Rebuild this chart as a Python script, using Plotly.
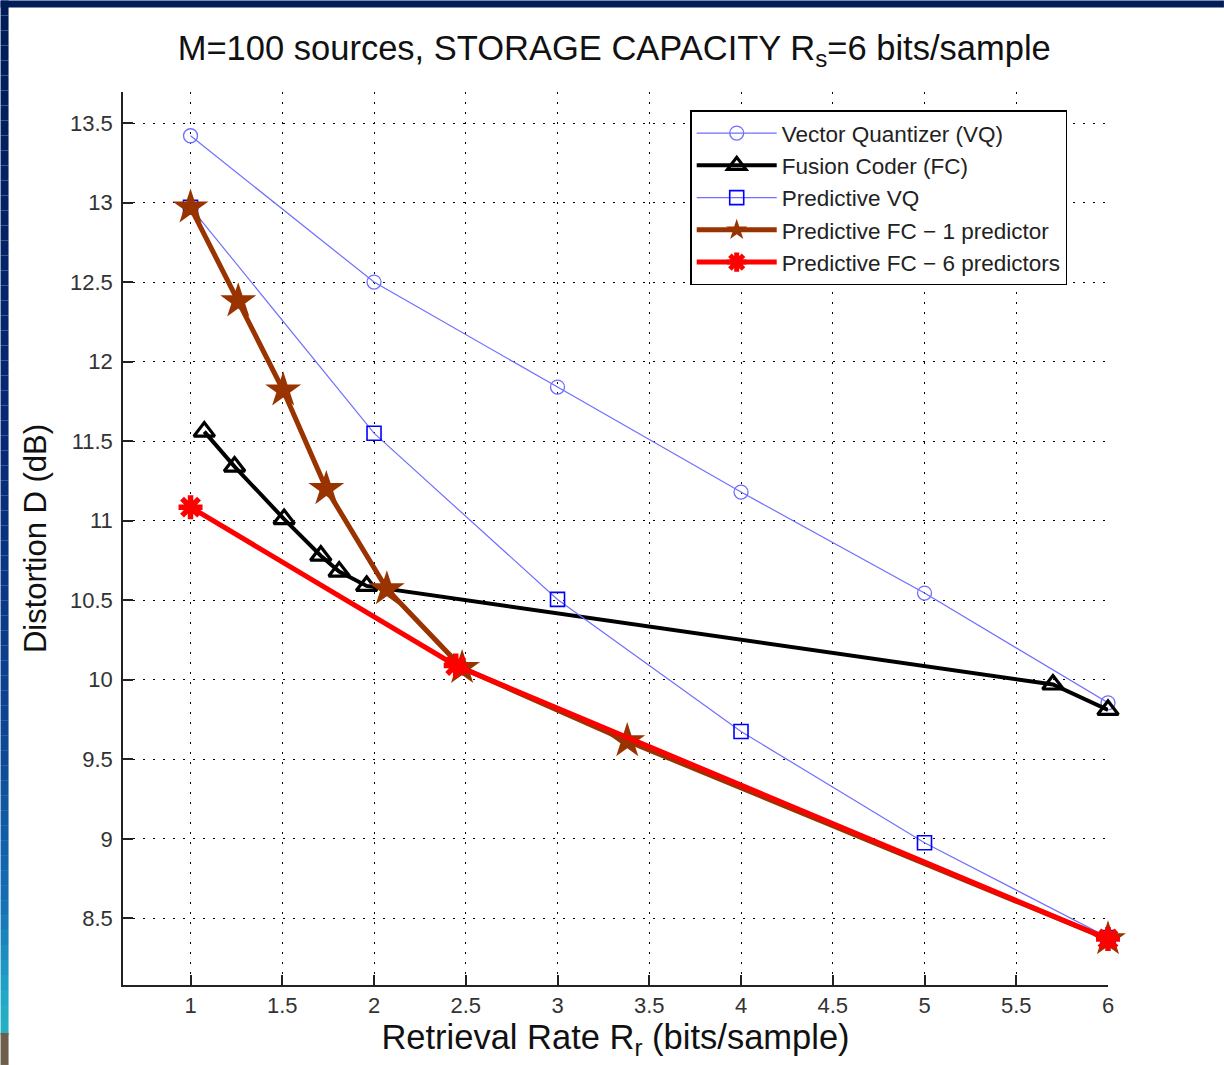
import plotly.graph_objects as go

# ---------------- data ----------------
vq_x = [1, 2, 3, 4, 5, 6]
vq_y = [13.42, 12.50, 11.84, 11.18, 10.545, 9.855]

fc_x = [1.075, 1.24, 1.51, 1.71, 1.81, 1.96, 5.70, 6.0]
fc_y = [11.56, 11.34, 11.01, 10.78, 10.68, 10.59, 9.97, 9.81]

pvq_x = [1, 2, 3, 4, 5, 6]
pvq_y = [12.97, 11.55, 10.505, 9.675, 8.975, 8.38]

pfc1_x = [1, 1.26, 1.505, 1.74, 2.07, 2.48, 3.38, 6.0]
pfc1_y = [12.97, 12.38, 11.82, 11.20, 10.57, 10.075, 9.615, 8.37]

pfc6_x = [1, 2.445, 6.0]
pfc6_y = [11.085, 10.09, 8.37]

x_ticks = [1, 1.5, 2, 2.5, 3, 3.5, 4, 4.5, 5, 5.5, 6]
x_tick_labels = ["1", "1.5", "2", "2.5", "3", "3.5", "4", "4.5", "5", "5.5", "6"]
y_ticks = [8.5, 9, 9.5, 10, 10.5, 11, 11.5, 12, 12.5, 13, 13.5]
y_tick_labels = ["8.5", "9", "9.5", "10", "10.5", "11", "11.5", "12", "12.5", "13", "13.5"]

series_names = ["Vector Quantizer (VQ)", "Fusion Coder (FC)", "Predictive VQ",
                "Predictive FC \u2212 1 predictor", "Predictive FC \u2212 6 predictors"]

# ---------------- layout geometry ----------------
W, H = 1224, 1065
L, R, T, B = 122.5, 116, 91.5, 80
PW, PH = W - L - R, H - T - B

def px(x):
    return (x - L) / PW

def py(y):
    return (H - B - y) / PH

FONT = "Liberation Sans, Arial, Helvetica, sans-serif"

fig = go.Figure()

fig.add_trace(go.Scatter(
    x=vq_x, y=vq_y, name=series_names[0], mode="lines+markers",
    line=dict(color="#6f6fff", width=1.2),
    marker=dict(symbol="circle-open", size=14, color="#6f6fff", line=dict(width=1.3)),
    cliponaxis=False))

fig.add_trace(go.Scatter(
    x=fc_x, y=fc_y, name=series_names[1], mode="lines+markers",
    line=dict(color="black", width=4),
    marker=dict(symbol="triangle-up-open", size=18, color="black", line=dict(width=3.2)),
    cliponaxis=False))

fig.add_trace(go.Scatter(
    x=pvq_x, y=pvq_y, name=series_names[2], mode="lines+markers",
    line=dict(color="#6f6fff", width=1.2),
    marker=dict(symbol="square-open", size=14, color="#0000ff", line=dict(width=1.6)),
    cliponaxis=False))

fig.add_trace(go.Scatter(
    x=pfc1_x, y=pfc1_y, name=series_names[3], mode="lines+markers",
    line=dict(color="#993300", width=5),
    marker=dict(symbol="star", size=27, color="#993300", line=dict(width=0)),
    cliponaxis=False))

fig.add_trace(go.Scatter(
    x=pfc6_x, y=pfc6_y, name=series_names[4], mode="lines+markers",
    line=dict(color="#ff0000", width=5),
    marker=dict(symbol="asterisk-open", size=20, color="#ff0000", line=dict(width=5.5)),
    cliponaxis=False))

# ---------------- slide border decoration ----------------
shapes = []
shapes.append(dict(type="rect", xref="paper", yref="paper", layer="below",
                   x0=px(0), x1=px(W), y0=py(7), y1=py(0),
                   fillcolor="#001d58", line=dict(width=0)))
stops = [(0, (0, 29, 88)), (450, (8, 42, 118)), (750, (14, 72, 150)),
         (900, (20, 110, 180)), (1000, (35, 170, 200)), (1030, (40, 175, 195))]
def col(y):
    for (y0, c0), (y1, c1) in zip(stops[:-1], stops[1:]):
        if y0 <= y <= y1:
            t = (y - y0) / (y1 - y0)
            return "rgb(%d,%d,%d)" % tuple(int(a + (b - a) * t) for a, b in zip(c0, c1))
    return "rgb(%d,%d,%d)" % stops[-1][1]
step = 15
for y in range(0, 1035, step):
    shapes.append(dict(type="rect", xref="paper", yref="paper", layer="below",
                       x0=px(0), x1=px(8), y0=py(min(y + step, 1035)), y1=py(y),
                       fillcolor=col(y + step / 2), line=dict(width=0)))
shapes.append(dict(type="rect", xref="paper", yref="paper", layer="below",
                   x0=px(0), x1=px(8), y0=py(H), y1=py(1033),
                   fillcolor="#6e5f4c", line=dict(width=0)))

fig.update_layout(
    width=W, height=H,
    margin=dict(l=L, r=R, t=T, b=B),
    paper_bgcolor="white", plot_bgcolor="white",
    font=dict(family=FONT, color="#222222"),
    shapes=shapes,
    title=dict(text="M=100 sources, STORAGE CAPACITY R<sub>s</sub>=6 bits/sample",
               x=px(614), xanchor="center", xref="paper",
               y=1 - 48 / H, yanchor="middle",
               font=dict(size=34.5, color="#111111", family=FONT)),
    xaxis=dict(range=[0.632, 6.0], tickvals=x_ticks, ticktext=x_tick_labels,
               showgrid=True, gridcolor="black", gridwidth=1, griddash="2px,8px",
               zeroline=False, showline=True, linecolor="#222222", linewidth=1.5,
               ticks="inside", ticklen=10, tickcolor="#222222", tickwidth=1.5,
               tickfont=dict(size=22, color="#333333"), mirror=False,
               title=dict(text="Retrieval Rate R<sub>r</sub> (bits/sample)",
                          font=dict(size=34.5, color="#111111"), standoff=0)),
    yaxis=dict(range=[8.081, 13.695], tickvals=y_ticks, ticktext=y_tick_labels,
               showgrid=True, gridcolor="black", gridwidth=1, griddash="2px,8px",
               zeroline=False, showline=True, linecolor="#222222", linewidth=1.5,
               ticks="inside", ticklen=10, tickcolor="#222222", tickwidth=1.5,
               tickfont=dict(size=22, color="#333333"), mirror=False,
               ticklabelstandoff=4,
               title=dict(text="Distortion D (dB)",
                          font=dict(size=31, color="#111111"), standoff=14)),
    legend=dict(x=px(690), y=py(110), xanchor="left", yanchor="top",
                bgcolor="white", bordercolor="black", borderwidth=1.5,
                font=dict(size=22.5, color="#222222", family=FONT),
                itemwidth=80, tracegroupgap=0),
    showlegend=True,
)

fig.write_html("out.html", post_script="document.body.style.margin='0';",
               config={"displayModeBar": False})
